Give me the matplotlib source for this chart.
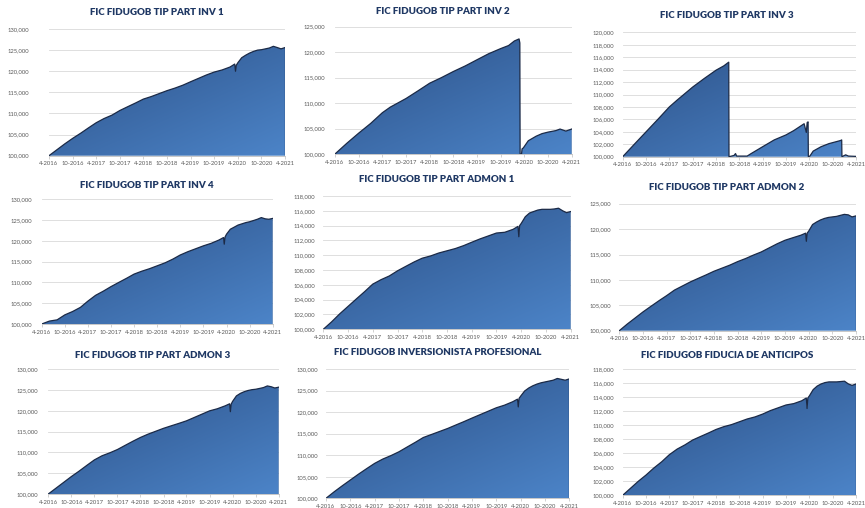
import matplotlib
matplotlib.use("Agg")
import matplotlib.pyplot as plt
import matplotlib.dates as mdates
from matplotlib.colors import LinearSegmentedColormap
from matplotlib.ticker import FuncFormatter, MultipleLocator
import numpy as np
import pandas as pd

plt.rcParams['font.family'] = ['Lato', 'DejaVu Sans']

# shared date grid (values below are in thousands of pesos)
grid_dates = ['2016-04-01', '2016-06-01', '2016-08-01', '2016-10-01', '2016-12-01',
              '2017-02-01', '2017-04-01', '2017-06-01', '2017-08-01', '2017-10-01',
              '2017-12-01', '2018-02-01', '2018-04-01', '2018-06-01', '2018-08-01',
              '2018-10-01', '2018-12-01', '2019-02-01', '2019-04-01', '2019-06-01',
              '2019-08-01', '2019-10-01', '2019-12-01', '2020-02-01', '2020-03-08',
              '2020-03-14', '2020-03-20', '2020-04-01', '2020-05-01', '2020-06-01',
              '2020-07-01', '2020-08-01', '2020-09-01', '2020-10-01', '2020-11-01',
              '2020-12-01', '2021-01-01', '2021-02-01', '2021-03-01', '2021-04-01']

inv1 = [100.0, 101.4, 102.8, 104.1, 105.3, 106.6, 107.8, 108.8, 109.6, 110.7,
        111.6, 112.5, 113.4, 114.0, 114.7, 115.4, 116.0, 116.7, 117.5, 118.3,
        119.1, 119.8, 120.3, 121.0, 121.7, 120.0, 121.4, 122.0, 123.2, 123.8,
        124.3, 124.7, 125.0, 125.1, 125.3, 125.5, 125.9, 125.6, 125.3, 125.6]

inv4 = [100.0, 100.7, 101.0, 102.2, 103.0, 104.0, 105.5, 106.9, 107.9, 109.0,
        110.0, 111.0, 112.0, 112.7, 113.3, 114.0, 114.7, 115.6, 116.6, 117.4,
        118.1, 118.8, 119.4, 120.2, 120.8, 119.2, 120.9, 121.6, 122.8, 123.3,
        123.8, 124.1, 124.4, 124.6, 124.9, 125.2, 125.6, 125.3, 125.2, 125.4]

admon1 = [100.0, 101.0, 102.1, 103.1, 104.1, 105.1, 106.1, 106.7, 107.2, 107.9,
          108.5, 109.1, 109.6, 109.9, 110.3, 110.6, 110.9, 111.3, 111.75, 112.2,
          112.6, 113.0, 113.1, 113.5, 113.9, 112.5, 114.0, 114.3, 115.2, 115.7,
          115.9, 116.1, 116.2, 116.2, 116.2, 116.25, 116.35, 116.0, 115.75, 115.9]

admon2 = [100.0, 101.3, 102.5, 103.7, 104.8, 105.9, 106.9, 108.0, 108.8, 109.6,
          110.3, 111.0, 111.7, 112.3, 112.9, 113.6, 114.2, 114.9, 115.5, 116.3,
          117.1, 117.8, 118.3, 118.8, 119.2, 117.6, 119.2, 119.6, 120.9, 121.4,
          121.8, 122.1, 122.3, 122.4, 122.5, 122.7, 122.9, 122.8, 122.4, 122.6]

admon3 = [100.0, 101.4, 102.8, 104.2, 105.5, 106.9, 108.2, 109.2, 109.9, 110.7,
          111.7, 112.7, 113.6, 114.4, 115.1, 115.8, 116.4, 117.0, 117.6, 118.4,
          119.2, 120.0, 120.5, 121.2, 121.7, 119.8, 121.6, 122.3, 123.6, 124.2,
          124.6, 124.9, 125.1, 125.2, 125.4, 125.6, 126.0, 125.8, 125.5, 125.7]

profesional = [100.0, 101.5, 102.9, 104.25, 105.6, 106.9, 108.1, 109.1, 109.9, 110.8,
               111.9, 113.0, 114.1, 114.8, 115.5, 116.2, 117.0, 117.8, 118.6, 119.4,
               120.2, 121.0, 121.6, 122.4, 123.0, 121.2, 123.2, 123.7, 124.9, 125.6,
               126.1, 126.5, 126.8, 127.0, 127.2, 127.4, 127.8, 127.6, 127.4, 127.7]

fiducia = [100.0, 101.0, 102.0, 102.9, 103.9, 104.8, 105.8, 106.6, 107.2, 107.9,
           108.4, 108.9, 109.4, 109.8, 110.1, 110.5, 110.9, 111.2, 111.6, 112.1,
           112.5, 112.9, 113.1, 113.5, 113.9, 112.4, 113.9, 114.2, 115.1, 115.6,
           115.9, 116.1, 116.2, 116.2, 116.2, 116.25, 116.3, 115.9, 115.7, 115.9]

# INV 2 and INV 3 were emptied and restarted, so they get their own dates
inv2_dates = ['2016-04-01', '2016-07-01', '2016-10-01', '2017-01-01', '2017-04-01',
              '2017-06-01', '2017-10-01', '2018-01-01', '2018-04-01', '2018-07-01',
              '2018-10-01', '2019-01-01', '2019-04-01', '2019-07-01', '2019-10-01',
              '2019-12-01', '2020-01-15', '2020-02-20', '2020-02-26', '2020-02-28',
              '2020-03-10', '2020-03-14', '2020-03-24', '2020-05-01', '2020-07-01',
              '2020-08-15', '2020-10-01', '2020-12-01', '2021-01-01', '2021-02-15',
              '2021-04-01']
inv2 = [100.0, 102.1, 104.1, 106.0, 108.1, 109.2, 110.9, 112.4, 113.9, 115.0,
        116.2, 117.3, 118.5, 119.7, 120.7, 121.3, 122.2, 122.6, 121.8, 100.0,
        100.0, 101.0, 101.2, 102.6, 103.5, 104.0, 104.3, 104.6, 104.9, 104.5,
        104.9]

inv3_dates = ['2016-04-01', '2016-07-01', '2016-10-01', '2017-01-01', '2017-04-01',
              '2017-06-01', '2017-10-01', '2018-01-01', '2018-04-01', '2018-06-01',
              '2018-07-10', '2018-07-12', '2018-08-20', '2018-09-01', '2018-09-10',
              '2018-12-01', '2019-01-01', '2019-04-01', '2019-07-01', '2019-10-01',
              '2019-12-01', '2020-02-20', '2020-03-08', '2020-03-15', '2020-03-22',
              '2020-03-24', '2020-04-05', '2020-05-01', '2020-07-01', '2020-09-01',
              '2020-12-01', '2020-12-10', '2020-12-12', '2021-01-10', '2021-02-01',
              '2021-04-01']
inv3 = [100.0, 102.0, 104.0, 106.0, 108.0, 109.1, 111.2, 112.6, 113.9, 114.6,
        115.2, 100.0, 100.2, 100.5, 100.1, 100.1, 100.5, 101.6, 102.7, 103.5,
        104.2, 105.3, 103.9, 105.5, 105.6, 100.0, 100.1, 100.9, 101.6, 102.1,
        102.6, 102.7, 100.0, 100.3, 100.1, 100.05]

titles = ['FIC FIDUGOB TIP PART INV 1', 'FIC FIDUGOB TIP PART INV 2',
          'FIC FIDUGOB TIP PART INV 3', 'FIC FIDUGOB TIP PART INV 4',
          'FIC FIDUGOB TIP PART ADMON 1', 'FIC FIDUGOB TIP PART ADMON 2',
          'FIC FIDUGOB TIP PART ADMON 3', 'FIC FIDUGOB INVERSIONISTA PROFESIONAL',
          'FIC FIDUGOB FIDUCIA DE ANTICIPOS']
series = [(grid_dates, inv1), (inv2_dates, inv2), (inv3_dates, inv3),
          (grid_dates, inv4), (grid_dates, admon1), (grid_dates, admon2),
          (grid_dates, admon3), (grid_dates, profesional), (grid_dates, fiducia)]
y_tops = [130, 125, 120, 130, 118, 125, 130, 130, 118]
y_steps = [5, 5, 2, 5, 2, 5, 5, 5, 2]

# plot boxes in pixels: left, right, top, bottom ; title centre x, y ; y label pad
W, H = 865, 508
boxes = [(49, 285, 29, 155.7, 157, 12.7, 14),
         (335, 571.7, 26.7, 154, 443, 11.7, 7),
         (622.7, 856, 32.3, 156.7, 726.7, 15, 6),
         (41.7, 272.7, 199.3, 324, 146.7, 185, 7),
         (323.3, 570.7, 196, 329.3, 436.7, 180, 6),
         (619.3, 856, 203.7, 330.7, 726.7, 187.7, 6),
         (48.3, 278.7, 369.3, 494, 153, 355, 7),
         (326, 569.3, 369, 498.3, 438, 352.7, 6),
         (622.7, 856, 369.3, 495.3, 726.7, 355, 6)]

cmap = LinearSegmentedColormap.from_list('blu', ['#2A4D82', '#4C84C8'])
gx, gy = np.meshgrid(np.linspace(0, 1, 200), np.linspace(0, 1, 200))
grad = 0.55 * (1 - gy) + 0.45 * gx

fig = plt.figure(figsize=(W / 100, H / 100), dpi=100)

x0 = mdates.date2num(pd.Timestamp('2016-04-01'))
x1 = mdates.date2num(pd.Timestamp('2021-04-01'))

for i in range(9):
    l, r, t, b, tx, ty, pad = boxes[i]
    ax = fig.add_axes([l / W, 1 - b / H, (r - l) / W, (b - t) / H])
    d, v = series[i]
    x = mdates.date2num(pd.to_datetime(d))
    y = np.array(v)

    poly = ax.fill_between(x, 100, y, facecolor='none', edgecolor='none')
    img = ax.imshow(grad, extent=[x0, x1, 100, y_tops[i]], origin='lower',
                    aspect='auto', cmap=cmap, zorder=2, interpolation='bilinear')
    img.set_clip_path(poly.get_paths()[0], transform=ax.transData)
    ax.plot(x, y, color='#1B2A47', lw=0.9, zorder=3)
    ax.plot([x[-1], x[-1]], [100, y[-1]], color='#1B2A47', lw=0.9, zorder=3)

    ax.set_xlim(x0, x1)
    ax.set_ylim(100, y_tops[i])
    ax.yaxis.set_major_locator(MultipleLocator(y_steps[i]))
    ax.yaxis.set_major_formatter(FuncFormatter(lambda val, p: f"{val * 1000:,.0f}"))
    ax.xaxis.set_major_locator(mdates.MonthLocator(bymonth=[4, 10]))
    ax.xaxis.set_major_formatter(FuncFormatter(
        lambda val, p: f"{mdates.num2date(val).month}-{mdates.num2date(val).year}"))
    ax.grid(axis='y', color='#D9D9D9', lw=0.6, zorder=1)
    ax.set_axisbelow(True)
    for s in ['top', 'right', 'left']:
        ax.spines[s].set_visible(False)
    ax.spines['bottom'].set_color('#BFBFBF')
    ax.spines['bottom'].set_linewidth(0.6)
    ax.tick_params(axis='y', length=0, pad=pad, labelsize=4.2, labelcolor='#595959')
    ax.tick_params(axis='x', length=2, width=0.5, color='#BFBFBF', pad=2,
                   labelsize=4.2, labelcolor='#595959')

    fig.text(tx / W, 1 - ty / H, titles[i], ha='center', va='center',
             fontsize=7, fontweight='heavy', color='#1F3864')

fig.savefig('out.png', dpi=100)
